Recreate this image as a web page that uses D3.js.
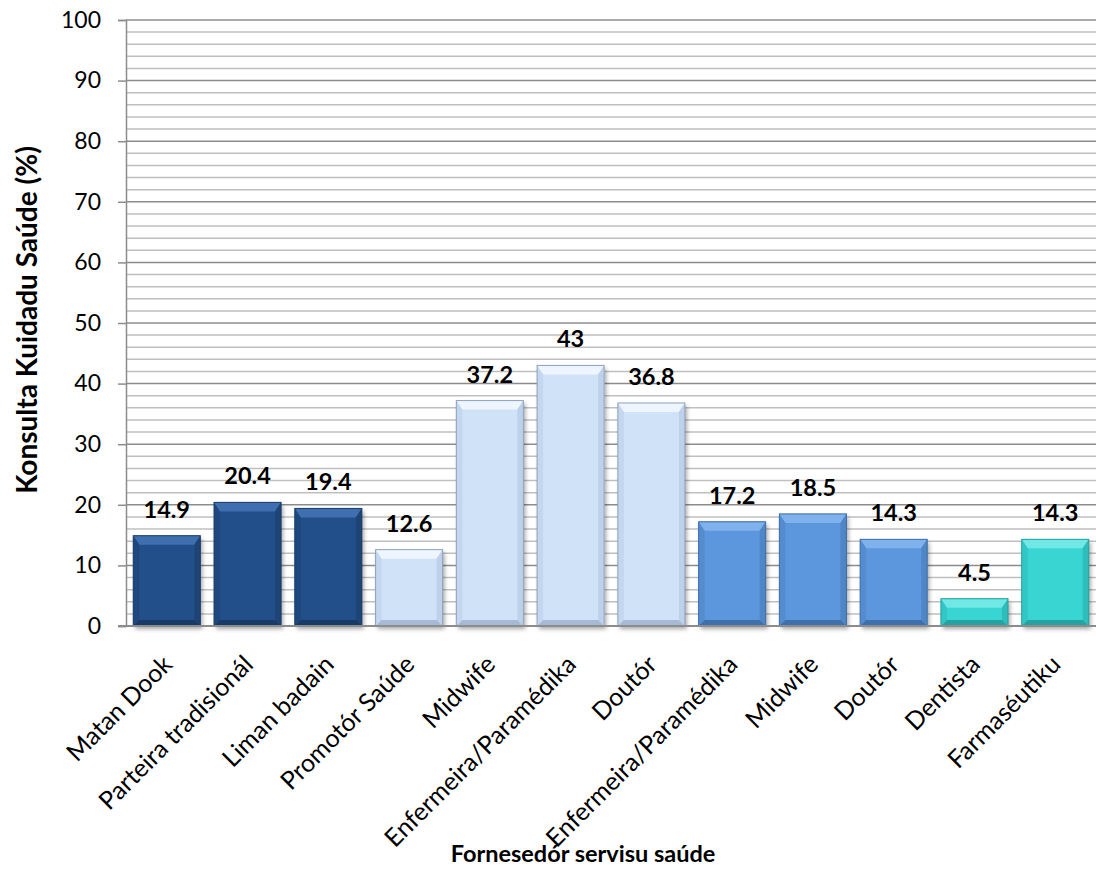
<!DOCTYPE html>
<html>
<head>
<meta charset="utf-8">
<script src="https://cdnjs.cloudflare.com/ajax/libs/d3/7.8.5/d3.min.js"></script>
<style>
  body { margin: 0; background: #fff; }
  text { font-family: Lato, "Open Sans", sans-serif; }
</style>
</head>
<body>
<div id="chart"></div>
<script>
var categories = ["Matan Dook", "Parteira tradisionál", "Liman badain", "Promotór Saúde",
                  "Midwife", "Enfermeira/Paramédika", "Doutór", "Enfermeira/Paramédika",
                  "Midwife", "Doutór", "Dentista", "Farmaséutiku"];
var values = [14.9, 20.4, 19.4, 12.6, 37.2, 43, 36.8, 17.2, 18.5, 14.3, 4.5, 14.3];
var groups = [0, 0, 0, 1, 1, 1, 1, 2, 2, 2, 3, 3];
var yTicks = [0, 10, 20, 30, 40, 50, 60, 70, 80, 90, 100];

// base, top bevel, side bevel, bottom bevel, outline
var palette = [
  ["#24508a", "#3f6fae", "#1d4475", "#173a66", "#1a3d6a"],
  ["#cfe2f8", "#eef5fe", "#bdd1ea", "#a6bad6", "#8da2bf"],
  ["#5b97dd", "#7fb1ec", "#4f86c6", "#3f70ab", "#3e6ea8"],
  ["#38d5d3", "#6fe8e6", "#2fbdbb", "#26a3a1", "#279f9d"]
];

var W = 1096, H = 873;
var x0 = 126, x1 = 1096, yTop = 20, yBot = 626;

var svg = d3.select("#chart").append("svg")
    .attr("width", W)
    .attr("height", H);

var defs = svg.append("defs");
var f = defs.append("filter").attr("id", "shadow")
    .attr("x", "-20%").attr("y", "-20%").attr("width", "140%").attr("height", "140%");
f.append("feDropShadow").attr("dx", 2).attr("dy", 3).attr("stdDeviation", 2)
    .attr("flood-color", "#000").attr("flood-opacity", 0.35);

var x = d3.scaleBand()
    .domain(d3.range(categories.length))
    .range([x0, x1])
    .paddingInner(0.17)
    .paddingOuter(0.09);

var y = d3.scaleLinear().domain([0, 100]).range([yBot, yTop]);

// minor grid every 2
var minor = d3.range(2, 100, 2).filter(function(v){ return v % 10 !== 0; });
svg.append("g").selectAll("line").data(minor).enter().append("line")
    .attr("x1", x0).attr("x2", x1)
    .attr("y1", function(d){ return y(d); }).attr("y2", function(d){ return y(d); })
    .attr("stroke", "#bfbfbf").attr("stroke-width", 1.5);

svg.append("g").selectAll("line").data(yTicks.slice(1)).enter().append("line")
    .attr("x1", x0).attr("x2", x1)
    .attr("y1", function(d){ return y(d); }).attr("y2", function(d){ return y(d); })
    .attr("stroke", "#8c8c8c").attr("stroke-width", 1.5);

// y axis
var yAxis = svg.append("g")
    .attr("transform", "translate(" + x0 + ",0)")
    .call(d3.axisLeft(y).tickValues(yTicks).tickSize(8).tickPadding(17));
yAxis.select(".domain").attr("stroke", "#8c8c8c").attr("stroke-width", 1.5);
yAxis.selectAll(".tick line").attr("stroke", "#8c8c8c").attr("stroke-width", 1.5);
yAxis.selectAll(".tick text")
    .attr("font-size", 23).attr("fill", "#000")
    .style("font-family", "Lato, sans-serif");

// bars
var bars = svg.append("g").selectAll("g.bar").data(values).enter().append("g")
    .attr("class", "bar");

bars.each(function(v, i) {
  var g = d3.select(this);
  var c = palette[groups[i]];
  var bx = x(i), bw = x.bandwidth(), by = y(v), bh = yBot - y(v);
  var t = Math.min(9, bh / 3), s = 6, b = Math.min(6, bh / 3);
  g.append("rect")
    .attr("x", bx).attr("y", by).attr("width", bw).attr("height", bh)
    .attr("fill", c[0]).attr("filter", "url(#shadow)");
  var pts = function(a){ return a.map(function(p){ return p.join(","); }).join(" "); };
  // top bevel
  g.append("polygon").attr("fill", c[1])
    .attr("points", pts([[bx, by], [bx + bw, by], [bx + bw - s, by + t], [bx + s, by + t]]));
  // left bevel
  g.append("polygon").attr("fill", c[2]).attr("opacity", 0.6)
    .attr("points", pts([[bx, by], [bx + s, by + t], [bx + s, by + bh - b], [bx, by + bh]]));
  // right bevel
  g.append("polygon").attr("fill", c[2])
    .attr("points", pts([[bx + bw, by], [bx + bw - s, by + t], [bx + bw - s, by + bh - b], [bx + bw, by + bh]]));
  // bottom bevel
  g.append("polygon").attr("fill", c[3])
    .attr("points", pts([[bx, by + bh], [bx + s, by + bh - b], [bx + bw - s, by + bh - b], [bx + bw, by + bh]]));
  g.append("rect")
    .attr("x", bx).attr("y", by).attr("width", bw).attr("height", bh)
    .attr("fill", "none").attr("stroke", c[4]).attr("stroke-width", 1);
});

// x baseline
svg.append("line")
    .attr("x1", x0 - 8).attr("x2", x1)
    .attr("y1", yBot).attr("y2", yBot)
    .attr("stroke", "#8c8c8c").attr("stroke-width", 2);

// value labels
svg.append("g").selectAll("text").data(values).enter().append("text")
    .attr("x", function(d, i){ return x(i) + x.bandwidth() / 2; })
    .attr("y", function(d){ return y(d) - 18; })
    .attr("text-anchor", "middle")
    .attr("font-size", 23.5).attr("font-weight", "bold").attr("fill", "#000")
    .text(function(d){ return d; });

// category labels
svg.append("g").selectAll("text").data(categories).enter().append("text")
    .attr("text-anchor", "end")
    .attr("font-size", 25).attr("fill", "#000")
    .attr("transform", function(d, i){
      var cx = x(i) + x.bandwidth() / 2 + 7;
      return "translate(" + cx + "," + (yBot + 40) + ") rotate(-45)";
    })
    .text(function(d){ return d; });

// axis titles
svg.append("text")
    .attr("transform", "translate(37,320) rotate(-90)")
    .attr("text-anchor", "middle")
    .attr("font-size", 28).attr("font-weight", "bold")
    .text("Konsulta Kuidadu Saúde (%)");

svg.append("text")
    .attr("x", 583).attr("y", 862)
    .attr("text-anchor", "middle")
    .attr("font-size", 23.5).attr("font-weight", "bold")
    .text("Fornesedór servisu saúde");
</script>
</body>
</html>
